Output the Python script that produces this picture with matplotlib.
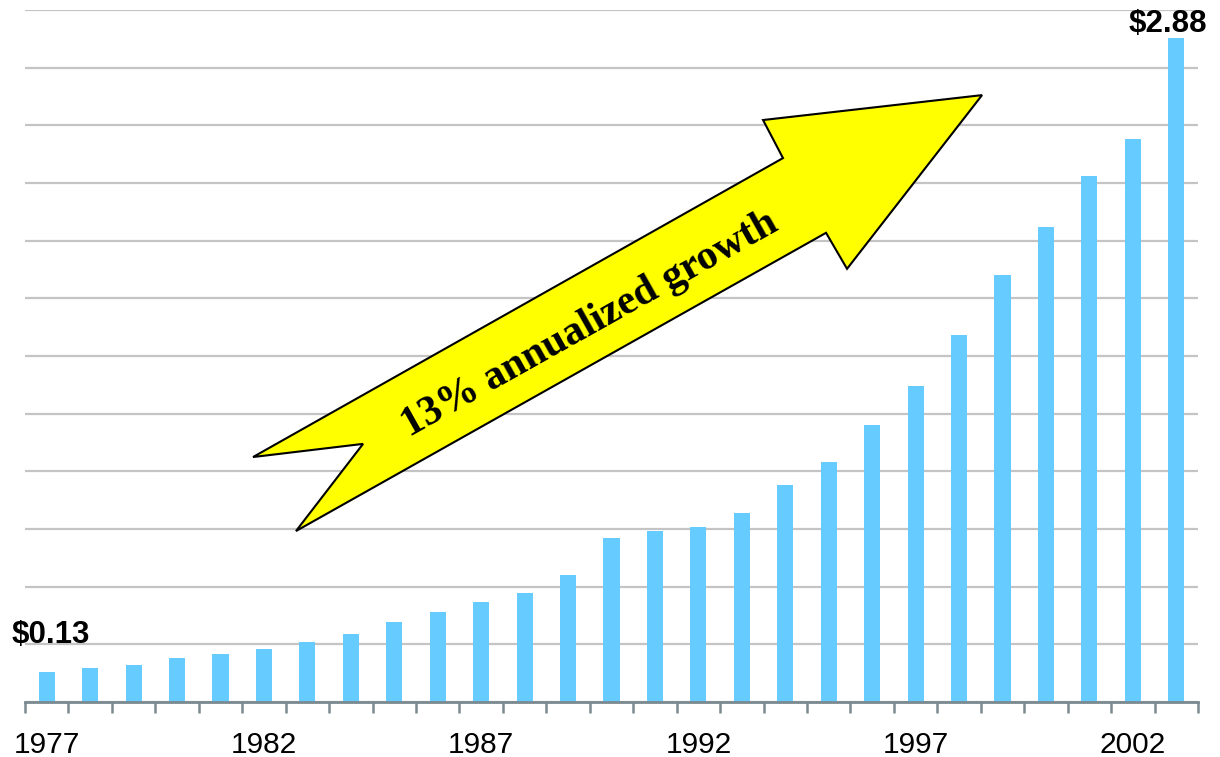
import matplotlib.pyplot as plt
from matplotlib.patches import Polygon
from matplotlib.ticker import FixedLocator, MultipleLocator

years = list(range(1977, 2004))
values = [0.13, 0.147, 0.16, 0.19, 0.21, 0.23, 0.26, 0.295, 0.347, 0.39,
          0.434, 0.473, 0.55, 0.711, 0.742, 0.759, 0.82, 0.941, 1.04, 1.20,
          1.37, 1.59, 1.85, 2.06, 2.28, 2.44, 2.88]
tick_years = [1977, 1982, 1987, 1992, 1997, 2002]
first_label = '$0.13'
last_label = '$2.88'
arrow_text = '13% annualized growth'

fig = plt.figure(figsize=(12.2, 7.57), dpi=100)
ax = fig.add_axes([25 / 1220, 55 / 757, 1173 / 1220, 692 / 757])

x = list(range(len(years)))
ax.bar(x, values, width=0.37, color='#66CCFF', zorder=2)

ax.set_xlim(-0.5, len(years) - 0.5)
ax.set_ylim(0, 3.0)

# gridlines every 0.25
ax.yaxis.set_major_locator(MultipleLocator(0.25))
ax.yaxis.grid(True, color='#C4C4C4', linewidth=1.6, zorder=0)
ax.tick_params(axis='y', left=False, labelleft=False)

# labels at bar centres, tick marks between bars
ax.set_xticks([years.index(y) for y in tick_years])
ax.set_xticklabels([str(y) for y in tick_years], fontsize=21.5, family='Liberation Sans')
ax.xaxis.set_minor_locator(FixedLocator([i - 0.5 for i in range(len(years) + 1)]))
ax.tick_params(axis='x', which='major', length=0, pad=21)
ax.tick_params(axis='x', which='minor', length=8, width=1.8, color='#7A8A90')

for s in ['left', 'right', 'top']:
    ax.spines[s].set_visible(False)
ax.spines['bottom'].set_color('#7A8A90')
ax.spines['bottom'].set_linewidth(2)
ax.spines['bottom'].set_zorder(3)

# value labels
ax.text(-0.82, 0.255, first_label, fontsize=22.5, fontweight='bold',
        family='Liberation Sans', ha='left', va='baseline')
ax.text(len(years) - 0.3, 2.905, last_label, fontsize=22.5, fontweight='bold',
        family='Liberation Sans', ha='right', va='baseline', clip_on=False)

# big yellow arrow (axes fraction coords)
arrow_pts = [(0.1944, 0.354), (0.6462, 0.786), (0.6292, 0.841), (0.8159, 0.877),
             (0.7008, 0.626), (0.6829, 0.678), (0.2310, 0.247), (0.2882, 0.373)]
ax.add_patch(Polygon(arrow_pts, closed=True, facecolor='#FFFF00', edgecolor='black',
                     linewidth=1.5, transform=ax.transAxes, zorder=4))
ax.text(0.482, 0.545, arrow_text, transform=ax.transAxes, rotation=29.3,
        rotation_mode='anchor', ha='center', va='center', fontsize=30,
        fontweight='bold', family='Liberation Serif', zorder=5)

fig.savefig('out.png', dpi=100)
